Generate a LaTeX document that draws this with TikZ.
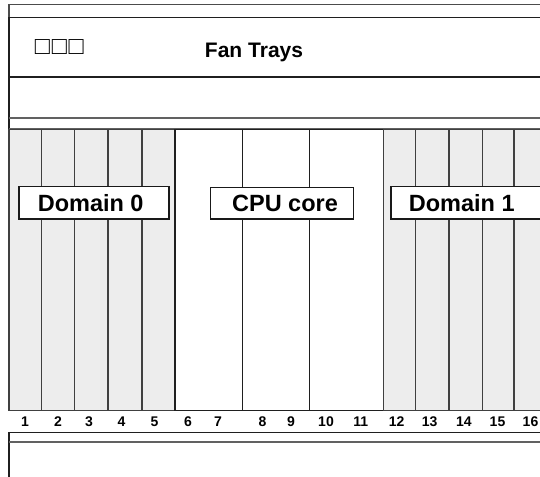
\documentclass[tikz,border=0pt]{standalone}
\usepackage{fontspec}
\setmainfont{Liberation Sans}
\begin{document}
\begin{tikzpicture}[x=1pt,y=-1pt,
  blk/.style={draw=black!88,line width=1.4pt},
  gry/.style={draw=black!62,line width=2pt},
  dslot/.style={fill=black!7,draw=black!75,line width=1.4pt},
  cslot/.style={fill=white,draw=black!88,line width=1.4pt},
  lblbox/.style={draw=black!90,line width=1.4pt,fill=white,inner sep=0pt},
  big/.style={font=\bfseries\fontsize{23.5}{28}\selectfont,inner sep=0pt,anchor=base},
  fan/.style={font=\bfseries\fontsize{21}{24}\selectfont,inner sep=0pt,anchor=base},
  sqs/.style={font=\fontsize{25}{30}\selectfont,inner sep=0pt,anchor=base},
  num/.style={font=\bfseries\fontsize{14}{16}\selectfont,inner sep=0pt,anchor=base}]
\useasboundingbox (0,0) rectangle (540,476);
\clip (0,0) rectangle (540,476);
% top frame
\draw[draw=black!70,line width=1.4pt] (548,4.8) -- (9,4.8) -- (9,17.5);
\draw[blk] (548,17.5) -- (9,17.5) -- (9,129.3);
\draw[blk] (9,77.2) -- (548,77.2);
\draw[gry] (9,117.6) -- (548,117.6);
\draw[gry] (9,129.3) -- (548,129.3);
% Domain 0 slots
\foreach \a/\b in {9/41.2,41.2/74.4,74.4/108,108/141.8,141.8/175}
  \path[dslot] (\a,129.3) rectangle (\b,410.7);
% CPU core slots
\foreach \a/\b in {175/242.7,242.7/309.3,309.3/383.3}
  \path[cslot] (\a,129.3) rectangle (\b,410.7);
% Domain 1 slots
\foreach \a/\b in {383.3/415.5,415.5/449,449/482.4,482.4/514,514/548}
  \path[dslot] (\a,129.3) rectangle (\b,410.7);
% label boxes
\node[lblbox,minimum width=150pt,minimum height=32.3pt] (d0box) at (94,202.9) {};
\node[lblbox,minimum width=142.6pt,minimum height=31.7pt] (cpubox) at (282,203.2) {};
\node[lblbox,minimum width=150pt,minimum height=32.3pt] (d1box) at (466,202.9) {};
\node[big] (d0) at (90.7,211.7) {Domain 0};
\node[big] (cpu) at (285,211.7) {CPU core};
\node[big] (d1) at (461.7,211.7) {Domain 1};
% fan trays
\node[sqs] (sq) at (59.3,54.5) {□\kern1.8pt□\kern1.8pt□};
\node[fan] (fantrays) at (254,57.3) {Fan Trays};
% slot numbers
\foreach \n/\x in {1/25,2/58,3/89,4/121.5,5/154.5,6/188,7/218,8/262.5,9/291,10/326,11/360.8,12/396.7,13/429.7,14/463.8,15/497.5,16/530.5}
  \node[num] (n\n) at (\x,426) {\n};
% bottom frame
\draw[blk] (548,432.3) -- (9,432.3) -- (9,480);
\draw[gry] (9,441.7) -- (548,441.7);
\end{tikzpicture}
\end{document}
